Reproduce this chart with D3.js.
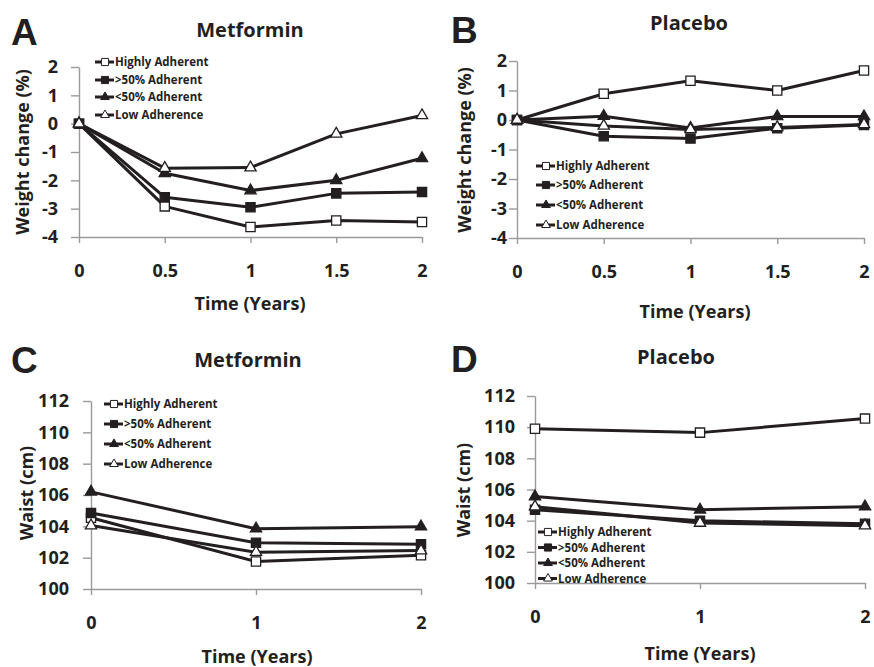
<!DOCTYPE html>
<html>
<head>
<meta charset="utf-8">
<script src="https://cdn.jsdelivr.net/npm/d3@7"></script>
<style>
  body { margin: 0; background: #fff; }
  svg { font-family: "Open Sans", Lato, sans-serif; font-weight: 700; }
  .axis .domain, .axis .tick line { stroke: #9a9a9a; stroke-width: 1.4; }
  .axis text { fill: #231f20; font-size: 18px; font-weight: 700; font-family: "Open Sans", Lato, sans-serif; }
</style>
</head>
<body>
<svg id="chart" width="874" height="667"></svg>
<script>
// groups, in legend order
const groups = ["Highly Adherent", ">50% Adherent", "<50% Adherent", "Low Adherence"];

const weightYears = [0, 0.5, 1, 1.5, 2];
const waistYears = [0, 1, 2];

// weight change (%) per group
const metforminWeight = [
    [0, -2.92, -3.65, -3.42, -3.47],
    [0, -2.6, -2.95, -2.46, -2.41],
    [0, -1.75, -2.36, -2.0, -1.22],
    [0, -1.57, -1.55, -0.36, 0.29]
];
const placeboWeight = [
    [0, 0.89, 1.33, 1.0, 1.68],
    [0, -0.55, -0.63, -0.28, -0.17],
    [0, 0.13, -0.27, 0.12, 0.12],
    [0, -0.2, -0.32, -0.25, -0.15]
];

// waist (cm) per group
const metforminWaist = [
    [104.55, 101.75, 102.15],
    [104.85, 102.95, 102.85],
    [106.2, 103.85, 103.98],
    [104.05, 102.35, 102.45]
];
const placeboWaist = [
    [109.9, 109.65, 110.55],
    [104.7, 104.0, 103.8],
    [105.55, 104.7, 104.9],
    [104.9, 103.85, 103.68]
];

const weightTicks = [-4, -3, -2, -1, 0, 1, 2];
const waistTicks = [100, 102, 104, 106, 108, 110, 112];

// marker for each group: open square, filled square, filled triangle, open triangle
const markers = [
    {shape: d3.symbolSquare, size: 85, fill: "#fff"},
    {shape: d3.symbolSquare, size: 85, fill: "#231f20"},
    {shape: d3.symbolTriangle, size: 55, fill: "#231f20"},
    {shape: d3.symbolTriangle, size: 55, fill: "#fff"}
];

const ink = "#231f20";

let panels = [
    {letter: "A", title: "Metformin", years: weightYears, values: metforminWeight, ticks: weightTicks,
     yLabel: "Weight change (%)", x0: 79, x1: 422, yTop: 67, yBot: 237, yPad: 13,
     letterX: 11, letterY: 45, titleX: 250, titleY: 37, xLabX: 250, xLabY: 310, yLabX: 29, yLabY: 152,
     legX: 95, legY: [62, 80, 97, 115]},
    {letter: "B", title: "Placebo", years: weightYears, values: placeboWeight, ticks: weightTicks,
     yLabel: "Weight change (%)", x0: 517, x1: 864, yTop: 61, yBot: 238, yPad: 2,
     letterX: 451, letterY: 43, titleX: 689, titleY: 30, xLabX: 695, xLabY: 318, yLabX: 471, yLabY: 150,
     legX: 536, legY: [166, 185, 205, 225]},
    {letter: "C", title: "Metformin", years: waistYears, values: metforminWaist, ticks: waistTicks,
     yLabel: "Waist (cm)", x0: 91, x1: 421, yTop: 401, yBot: 589, yPad: 14,
     letterX: 11, letterY: 373, titleX: 248, titleY: 367, xLabX: 257, xLabY: 663, yLabX: 33, yLabY: 493,
     legX: 104, legY: [404, 424, 444, 464]},
    {letter: "D", title: "Placebo", years: waistYears, values: placeboWaist, ticks: waistTicks,
     yLabel: "Waist (cm)", x0: 535, x1: 865, yTop: 396, yBot: 583, yPad: 12,
     letterX: 451, letterY: 372, titleX: 676, titleY: 364, xLabX: 700, xLabY: 660, yLabX: 470, yLabY: 490,
     legX: 538, legY: [532, 547.5, 563, 578.5]}
];

const svg = d3.select("#chart");

panels.forEach(p => {
    let g = svg.append("g");

    let x = d3.scaleLinear().domain([0, 2]).range([p.x0, p.x1]);
    let y = d3.scaleLinear().domain(d3.extent(p.ticks)).range([p.yBot, p.yTop]);

    // axes
    g.append("g")
        .attr("class", "axis")
        .attr("transform", "translate(0," + p.yBot + ")")
        .call(d3.axisBottom(x).tickValues(p.years).tickSize(6).tickSizeOuter(0).tickPadding(21).tickFormat(d => String(d)));

    g.append("g")
        .attr("class", "axis")
        .attr("transform", "translate(" + p.x0 + ",0)")
        .call(d3.axisLeft(y).tickValues(p.ticks).tickSize(8).tickSizeOuter(0).tickPadding(p.yPad).tickFormat(d => String(d)));

    // lines + markers
    let line = d3.line().x((d, i) => x(p.years[i])).y(d => y(d));

    p.values.forEach((vals, gi) => {
        g.append("path")
            .attr("d", line(vals))
            .attr("fill", "none")
            .attr("stroke", ink)
            .attr("stroke-width", 3)
            .attr("stroke-linejoin", "round");
    });
    p.values.forEach((vals, gi) => {
        let m = markers[gi];
        g.selectAll(null)
            .data(vals)
            .enter().append("path")
            .attr("d", d3.symbol().type(m.shape).size(m.size))
            .attr("transform", (d, i) => "translate(" + x(p.years[i]) + "," + y(d) + ")")
            .attr("fill", m.fill)
            .attr("stroke", ink)
            .attr("stroke-width", 1.3);
    });

    // legend
    groups.forEach((name, gi) => {
        let m = markers[gi];
        let ly = p.legY[gi];
        g.append("line")
            .attr("x1", p.legX).attr("x2", p.legX + 19)
            .attr("y1", ly).attr("y2", ly)
            .attr("stroke", ink).attr("stroke-width", 3);
        g.append("path")
            .attr("d", d3.symbol().type(m.shape).size(m.size * 0.6))
            .attr("transform", "translate(" + (p.legX + 10) + "," + ly + ")")
            .attr("fill", m.fill)
            .attr("stroke", ink)
            .attr("stroke-width", 1);
        g.append("text")
            .attr("x", p.legX + 20)
            .attr("y", ly)
            .attr("dy", "0.35em")
            .attr("font-size", 11.5)
            .attr("fill", ink)
            .text(name);
    });

    // titles
    g.append("text")
        .attr("x", p.letterX).attr("y", p.letterY)
        .attr("font-family", "'Liberation Sans', Arial, sans-serif")
        .attr("font-size", 37)
        .attr("fill", ink)
        .text(p.letter);

    g.append("text")
        .attr("x", p.titleX).attr("y", p.titleY)
        .attr("text-anchor", "middle")
        .attr("font-size", 20)
        .attr("fill", ink)
        .text(p.title);

    g.append("text")
        .attr("x", p.xLabX).attr("y", p.xLabY)
        .attr("text-anchor", "middle")
        .attr("font-size", 18)
        .attr("fill", ink)
        .text("Time (Years)");

    g.append("text")
        .attr("transform", "translate(" + p.yLabX + "," + p.yLabY + ") rotate(-90)")
        .attr("text-anchor", "middle")
        .attr("font-size", 18)
        .attr("fill", ink)
        .text(p.yLabel);
});
</script>
</body>
</html>
